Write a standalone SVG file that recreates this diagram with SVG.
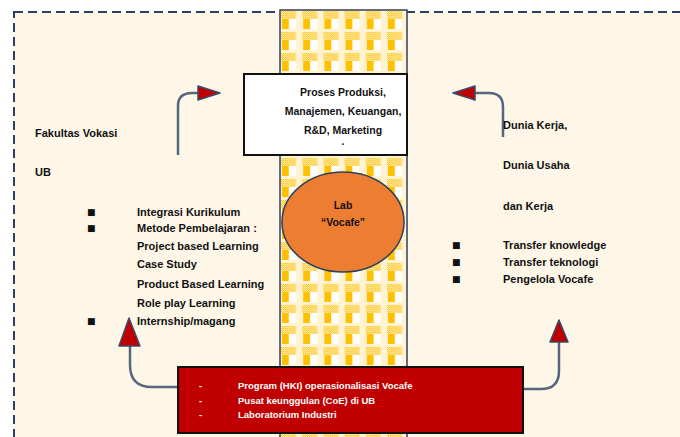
<svg xmlns="http://www.w3.org/2000/svg" width="680" height="437" viewBox="0 0 680 437">
<defs>
<pattern id="dots" patternUnits="userSpaceOnUse" width="2" height="2">
<rect width="2" height="2" fill="#FFF4D6"/>
<rect width="1" height="1" fill="#FFC000"/>
<rect x="1" y="1" width="1" height="1" fill="#FFC000"/>
</pattern>
<pattern id="weave" patternUnits="userSpaceOnUse" x="281" y="11" width="21.2" height="21">
<rect width="21.2" height="21" fill="#FFF3D2"/>
<rect x="0" y="0" width="15" height="8" fill="url(#dots)"/>
<rect x="1" y="8" width="7" height="10" fill="#FFC000"/>
<rect x="8" y="8" width="7" height="10" fill="#FFFFFF"/>
</pattern>
</defs>
<style>
.t{font-family:"Liberation Sans",Arial,sans-serif;font-size:11px;font-weight:bold;fill:#111;}
.c{text-anchor:middle;font-size:10.5px;}
.b{font-family:"DejaVu Sans",sans-serif;font-size:9px;fill:#111;}
.w{font-family:"Liberation Sans",Arial,sans-serif;font-size:9.5px;font-weight:bold;fill:#fff;}
.conn{fill:none;stroke:#56667F;stroke-width:2.5;}
.head{fill:#C00000;stroke:#3A4A68;stroke-width:1.5;stroke-linejoin:round;}
</style>
<rect width="680" height="437" fill="#ffffff"/>
<rect id="frame" x="14" y="12" width="720" height="480" fill="#FEF7E7" stroke="#2E3F60" stroke-width="2" stroke-dasharray="9,5"/>
<g id="column">
<rect x="280" y="10" width="127" height="440" fill="url(#weave)" stroke="#2E3F60" stroke-width="1.5"/>
</g>
<g id="connectors">
<path class="conn" d="M178,155 V106 Q178,93 192,93 H200"/>
<polygon class="head" points="198,86 220,93 198,100"/>
<path class="conn" d="M503,137 V107 Q503,93 489,93 H474"/>
<polygon class="head" points="475,86 453,93 475,100"/>
<path class="conn" d="M178,387 H152 Q130,387 130,365 V345"/>
<polygon class="head" points="119,346 129,318 140,346"/>
<path class="conn" d="M523,389 H541 Q559,389 559,371 V341"/>
<polygon class="head" points="550,342 559,320 568,342"/>
</g>
<g id="box-proses">
<rect x="244" y="74" width="163" height="81" fill="#ffffff" stroke="#111" stroke-width="2"/>
<text class="t c" x="343" y="96">Proses Produksi,</text>
<text class="t c" x="343" y="115">Manajemen, Keuangan,</text>
<text class="t c" x="343" y="134">R&amp;D, Marketing</text>
<text class="t c" x="343" y="145">.</text>
</g>
<g id="lab">
<ellipse cx="343" cy="222" rx="61" ry="50" fill="#ED7D31" stroke="#2E3F60" stroke-width="1.5"/>
<text class="t c" x="343" y="209">Lab</text>
<text class="t c" x="343" y="226">“Vocafe”</text>
</g>
<g id="vokasi">
<text class="t" x="35" y="137">Fakultas Vokasi</text>
<text class="t" x="35" y="176">UB</text>
</g>
<g id="list-left">
<text class="b" x="87" y="215">■</text>
<text class="t" x="137" y="216">Integrasi Kurikulum</text>
<text class="b" x="87" y="231">■</text>
<text class="t" x="137" y="232">Metode Pembelajaran :</text>
<text class="t" x="137" y="250">Project based Learning</text>
<text class="t" x="137" y="268">Case Study</text>
<text class="t" x="137" y="288">Product Based Learning</text>
<text class="t" x="137" y="307">Role play Learning</text>
<text class="b" x="87" y="324">■</text>
<text class="t" x="137" y="325">Internship/magang</text>
</g>
<g id="dunia">
<text class="t" x="503" y="129">Dunia Kerja,</text>
<text class="t" x="503" y="169">Dunia Usaha</text>
<text class="t" x="503" y="210">dan Kerja</text>
<text class="b" x="452" y="248">■</text>
<text class="t" x="503" y="249">Transfer knowledge</text>
<text class="b" x="452" y="265">■</text>
<text class="t" x="503" y="266">Transfer teknologi</text>
<text class="b" x="452" y="282">■</text>
<text class="t" x="503" y="283">Pengelola Vocafe</text>
</g>
<g id="box-program">
<rect x="178" y="367" width="345" height="66" fill="#C00000" stroke="#111" stroke-width="2"/>
<text class="w" x="199" y="389">-</text>
<text class="w" x="238" y="389">Program (HKI) operasionalisasi Vocafe</text>
<text class="w" x="199" y="404">-</text>
<text class="w" x="238" y="404">Pusat keunggulan (CoE) di UB</text>
<text class="w" x="199" y="418">-</text>
<text class="w" x="238" y="418">Laboratorium Industri</text>
</g>
</svg>
